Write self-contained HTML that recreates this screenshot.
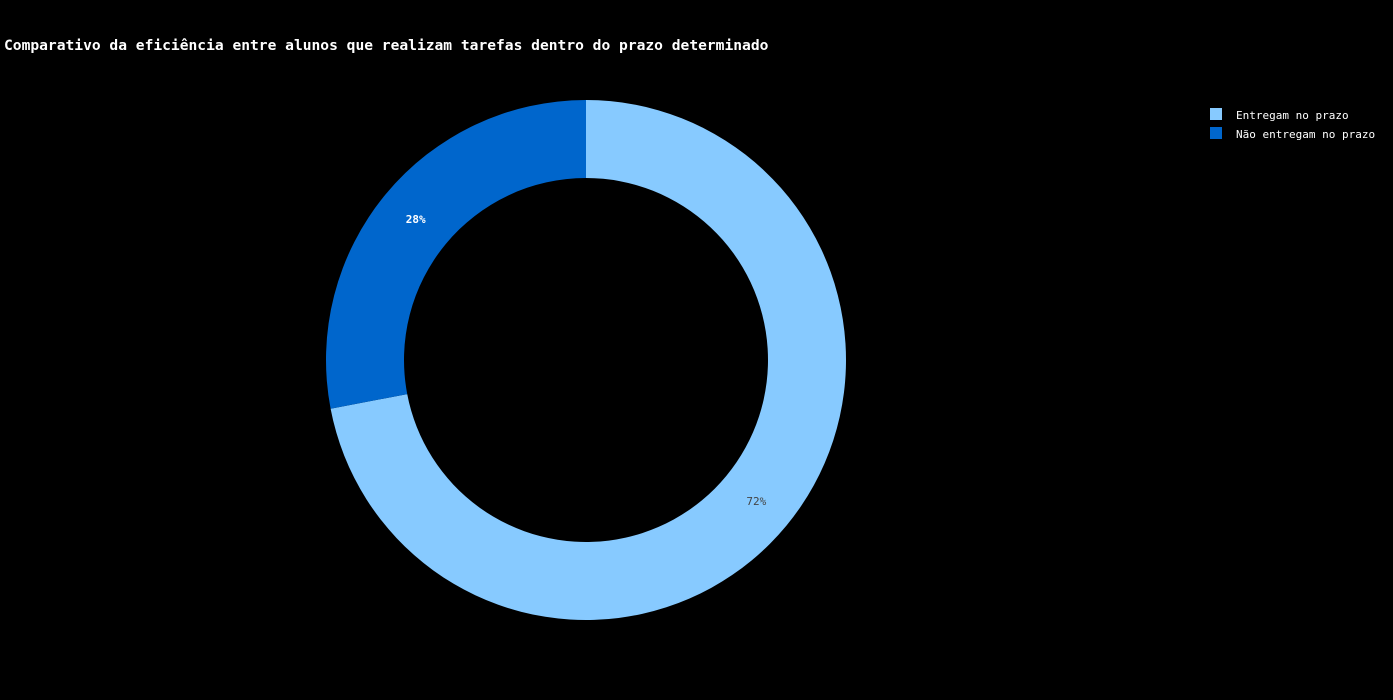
<!DOCTYPE html>
<html><head><meta charset="utf-8"><style>
body{margin:0;background:#000;width:1393px;height:700px;overflow:hidden}
svg{display:block}
</style></head><body>
<svg width="1393" height="700" xmlns="http://www.w3.org/2000/svg" font-family="'DejaVu Sans Mono','Liberation Mono',monospace">
<rect width="1393" height="700" fill="#000"/>
<text x="4" y="50" fill="#fff" font-size="14.6" font-weight="bold">Comparativo da eficiência entre alunos que realizam tarefas dentro do prazo determinado</text>
<g id="slices"></g>
<g>
<g><rect x="1210" y="108" width="12" height="12" fill="#87CAFF"/><text x="1236" y="119" fill="#fff" font-size="11">Entregam no prazo</text></g>
<g><rect x="1210" y="127" width="12" height="12" fill="#0066CC"/><text x="1236" y="138" fill="#fff" font-size="11">Não entregam no prazo</text></g>
</g>
</svg>
<script>
const labels=["Entregam no prazo","Não entregam no prazo"];
const values=[72,28];
const colors=["#87CAFF","#0066CC"];
const cx=586,cy=360,R=260,r=182;
const g=document.getElementById('slices');
const ns="http://www.w3.org/2000/svg";
const total=values.reduce((a,b)=>a+b,0);
let a0=0;
function pt(a,rad){return [cx+rad*Math.sin(a),cy-rad*Math.cos(a)];}
values.forEach((v,i)=>{
  const a1=a0+v/total*2*Math.PI;
  const large=(a1-a0)>Math.PI?1:0;
  const p1=pt(a0,R),p2=pt(a1,R),p3=pt(a1,r),p4=pt(a0,r);
  const p=document.createElementNS(ns,'path');
  p.setAttribute('d',`M${p1} A${R},${R} 0 ${large} 1 ${p2} L${p3} A${r},${r} 0 ${large} 0 ${p4}Z`);
  p.setAttribute('fill',colors[i]);
  
  
  g.appendChild(p);
  const am=(a0+a1)/2,lp=pt(am,(R+r)/2);
  const t=document.createElementNS(ns,'text');
  t.setAttribute('x',lp[0]);t.setAttribute('y',lp[1]+4);
  t.setAttribute('text-anchor','middle');t.setAttribute('font-size','11');
  t.setAttribute('fill',i===0?'#444':'#fff');
  if(i===1)t.setAttribute('font-weight','bold');
  t.textContent=Math.round(v/total*100)+'%';
  
  
  g.appendChild(t);
  a0=a1;
});
</script>
</body></html>
